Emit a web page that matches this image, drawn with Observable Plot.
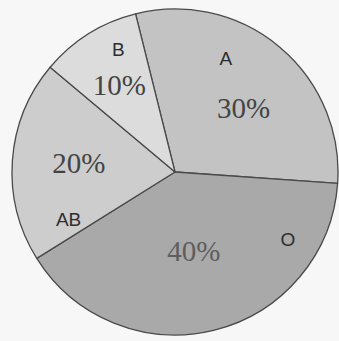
<!DOCTYPE html>
<html>
<head>
<meta charset="utf-8">
<script src="https://cdn.jsdelivr.net/npm/d3@7"></script>
<script src="https://cdn.jsdelivr.net/npm/@observablehq/plot@0.6"></script>
<style>
  html, body { margin: 0; padding: 0; background: #f7f7f7; }
  #chart svg { display: block; background: #f7f7f7; }
</style>
</head>
<body>
<div id="chart"></div>
<script>
// Blood type distribution
const categories = ["A", "O", "AB", "B"];
const percents = [30, 40, 20, 10];
const percentLabels = ["30%", "40%", "20%", "10%"];

// styling / layout (not data)
const fills = {A: "#c3c3c3", O: "#a9a9a9", AB: "#cdcdcd", B: "#dcdcdc"};
const startAngleDeg = -14;          // boundary between B and A, clockwise from north
const R = 163;                      // pie radius in plot units (1 unit = 1 px)
// label placement: angle offset from slice middle (deg) and radius
const letterLayout = {A: [-16, 124], O: [-45, 131], AB: [-28, 117], B: [7, 135]};
const pctLayout = {A: [7, 93], O: [1, 81], AB: [1, 97], B: [-1, 103]};

const data = categories.map((c, i) => ({category: c, value: percents[i], label: percentLabels[i]}));

const pie = d3.pie()
  .value(d => d.value)
  .sort(null)
  .startAngle(startAngleDeg * Math.PI / 180)
  .endAngle((startAngleDeg + 360) * Math.PI / 180)(data);

// label positions derived from slice angles
const toXY = (ang, r) => [r * Math.sin(ang), r * Math.cos(ang)];
const letters = pie.map(p => {
  const mid = (p.startAngle + p.endAngle) / 2;
  const [off, r] = letterLayout[p.data.category];
  const [x, y] = toXY(mid + off * Math.PI / 180, r);
  return {x, y, text: p.data.category};
});
const pcts = pie.map(p => {
  const mid = (p.startAngle + p.endAngle) / 2;
  const [off, r] = pctLayout[p.data.category];
  const [x, y] = toXY(mid + off * Math.PI / 180, r);
  return {x, y, text: p.data.label, cat: p.data.category};
});

function pieMark(index, scales) {
  const cx = scales.x(0), cy = scales.y(0);
  const rr = Math.abs(scales.x(R) - scales.x(0));
  const arc = d3.arc().innerRadius(0).outerRadius(rr);
  const g = d3.create("svg:g").attr("transform", `translate(${cx},${cy})`);
  g.selectAll("path")
    .data(pie)
    .join("path")
    .attr("d", arc)
    .attr("fill", d => fills[d.data.category])
    .attr("stroke", "#4a4a4a")
    .attr("stroke-width", 1.3)
    .attr("stroke-linejoin", "round");
  return g.node();
}

const chart = Plot.plot({
  width: 339,
  height: 341,
  margin: 0,
  style: {background: "#f7f7f7"},
  x: {domain: [-175, 164], axis: null},
  y: {domain: [-169, 172], axis: null},
  marks: [
    pieMark,
    Plot.text(letters, {
      x: "x", y: "y", text: "text",
      fontFamily: "Liberation Sans, Arial, sans-serif",
      fontSize: 19,
      fill: "#2e2e2e",
      textAnchor: "middle",
      lineAnchor: "middle"
    }),
    Plot.text(pcts, {
      x: "x", y: "y", text: "text",
      fontFamily: "Liberation Serif, Times New Roman, serif",
      fontSize: 29,
      letterSpacing: "-0.5px",
      fill: d => d.cat === "O" ? "#5e5e5e" : "#444",
      textAnchor: "middle",
      lineAnchor: "middle"
    })
  ]
});

document.getElementById("chart").appendChild(chart);
</script>
</body>
</html>
